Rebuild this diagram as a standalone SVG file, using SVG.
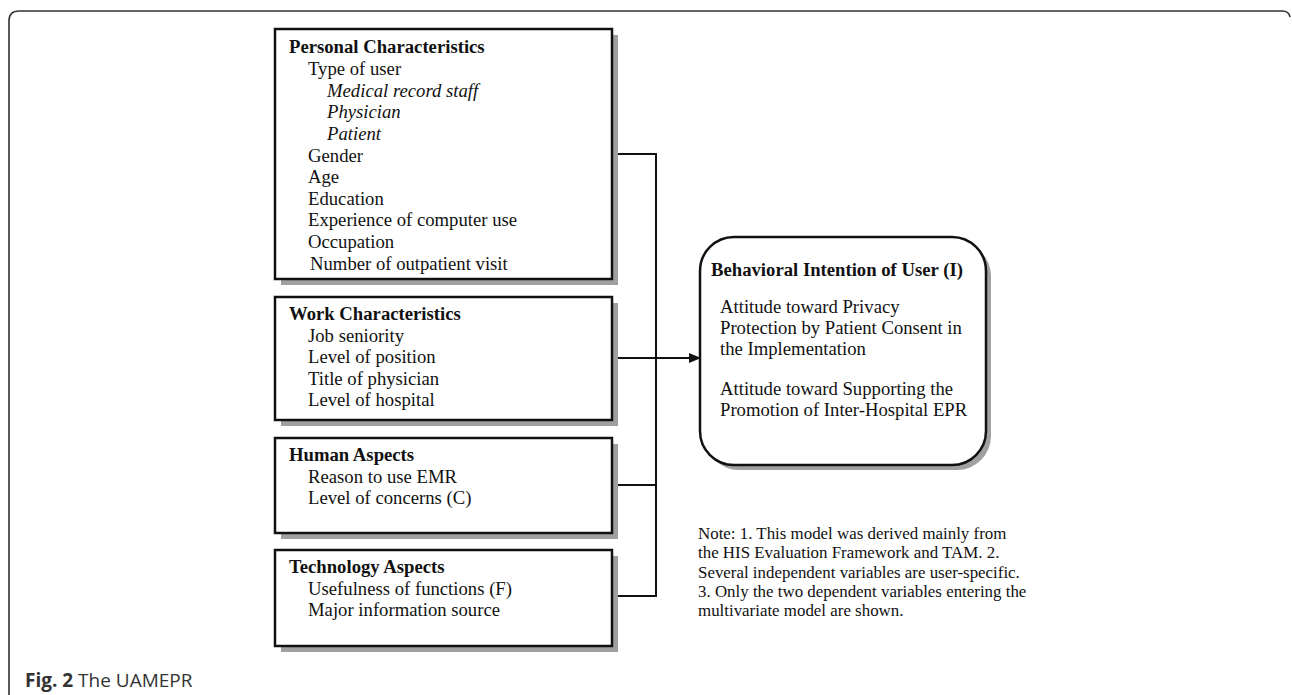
<svg xmlns="http://www.w3.org/2000/svg" width="1292" height="695" viewBox="0 0 1292 695">
<style>
.t{font-family:"Liberation Serif","Times New Roman",serif;font-size:18.7px;fill:#111}
.b{font-weight:bold}
.i{font-style:italic}
.n{font-family:"Liberation Serif","Times New Roman",serif;font-size:16.9px;fill:#111}
.box{fill:#fff;stroke:#111;stroke-width:2.5}
.sh{fill:#a0a0a0}
.ln{stroke:#111;stroke-width:2;fill:none}
.cap{font-family:"Open Sans","Noto Sans",sans-serif;font-size:19px;fill:#333}
</style>
<defs>
<marker id="ah" markerWidth="12" markerHeight="10" refX="11" refY="5" orient="auto" markerUnits="userSpaceOnUse">
<path d="M0,0 L12,5 L0,10 z" fill="#111"/>
</marker>
</defs>
<rect width="1292" height="695" fill="#fff"/>
<path d="M9,695 V21 Q9,11 19,11 H1282 Q1289,11 1290,17" fill="none" stroke="#333" stroke-width="1.6"/>

<g id="connectors">
<path class="ln" d="M618,154 H656 V596 H618"/>
<path class="ln" d="M618,485 H656"/>
<path class="ln" d="M618,358 H700" marker-end="url(#ah)"/>
</g>

<g id="personal">
<rect class="sh" x="281" y="35" width="337" height="250"/>
<rect class="box" x="275" y="29" width="337" height="250"/>
<text class="t b" x="289" y="53">Personal Characteristics</text>
<text class="t" x="308" y="75">Type of user</text>
<text class="t i" x="327" y="97">Medical record staff</text>
<text class="t i" x="327" y="118">Physician</text>
<text class="t i" x="327" y="140">Patient</text>
<text class="t" x="308" y="162">Gender</text>
<text class="t" x="308" y="183">Age</text>
<text class="t" x="308" y="205">Education</text>
<text class="t" x="308" y="226">Experience of computer use</text>
<text class="t" x="308" y="248">Occupation</text>
<text class="t" x="310" y="270">Number of outpatient visit</text>
</g>

<g id="work">
<rect class="sh" x="281" y="303" width="337" height="123"/>
<rect class="box" x="275" y="297" width="337" height="123"/>
<text class="t b" x="289" y="320">Work Characteristics</text>
<text class="t" x="308" y="342">Job seniority</text>
<text class="t" x="308" y="363">Level of position</text>
<text class="t" x="308" y="385">Title of physician</text>
<text class="t" x="308" y="406">Level of hospital</text>
</g>

<g id="human">
<rect class="sh" x="281" y="444" width="337" height="95"/>
<rect class="box" x="275" y="438" width="337" height="95"/>
<text class="t b" x="289" y="461">Human Aspects</text>
<text class="t" x="308" y="483">Reason to use EMR</text>
<text class="t" x="308" y="504">Level of concerns (C)</text>
</g>

<g id="technology">
<rect class="sh" x="281" y="556" width="337" height="96"/>
<rect class="box" x="275" y="550" width="337" height="96"/>
<text class="t b" x="289" y="573">Technology Aspects</text>
<text class="t" x="308" y="595">Usefulness of functions (F)</text>
<text class="t" x="308" y="616">Major information source</text>
</g>

<g id="intention">
<rect class="sh" x="705" y="242" width="286" height="228" rx="34"/>
<rect class="box" x="700" y="237" width="286" height="228" rx="34"/>
<text class="t b" x="711" y="276">Behavioral Intention of User (I)</text>
<text class="t" x="720" y="313">Attitude toward Privacy</text>
<text class="t" x="720" y="334">Protection by Patient Consent in</text>
<text class="t" x="720" y="355">the Implementation</text>
<text class="t" x="720" y="395">Attitude toward Supporting the</text>
<text class="t" x="720" y="416">Promotion of Inter-Hospital EPR</text>
</g>

<g id="note">
<text class="n" x="698" y="539">Note: 1. This model was derived mainly from</text>
<text class="n" x="698" y="558">the HIS Evaluation Framework and TAM. 2.</text>
<text class="n" x="698" y="578">Several independent variables are user-specific.</text>
<text class="n" x="698" y="597">3. Only the two dependent variables entering the</text>
<text class="n" x="698" y="616">multivariate model are shown.</text>
</g>

<text class="cap" x="25" y="687"><tspan font-weight="bold">Fig. 2</tspan> The UAMEPR</text>
</svg>
